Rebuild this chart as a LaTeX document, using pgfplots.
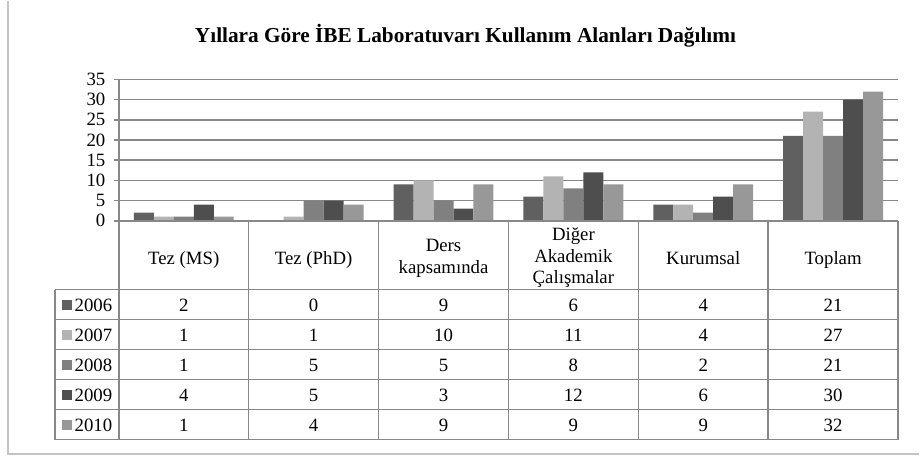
\documentclass[border=0pt]{standalone}
\usepackage{pgfplots}
\usepackage{pgfplotstable}
\pgfplotsset{compat=1.18}
\usepackage{fontspec}
\setmainfont{Liberation Serif}

\definecolor{cA}{HTML}{606060}
\definecolor{cB}{HTML}{B3B3B3}
\definecolor{cC}{HTML}{808080}
\definecolor{cD}{HTML}{4E4E4E}
\definecolor{cE}{HTML}{989898}
\definecolor{gridc}{HTML}{888888}
\definecolor{framec}{HTML}{C4C4C4}

\pgfplotstableread{
idx y2006 y2007 y2008 y2009 y2010
0 2 1 1 4 1
1 0 1 5 5 4
2 9 10 5 3 9
3 6 11 8 12 9
4 4 4 2 6 9
5 21 27 21 30 32
}\data

\newcommand{\tfont}{\fontsize{18.8}{22}\selectfont}

\begin{document}
\begin{tikzpicture}
\begin{axis}[name=ax, anchor=south west, scale only axis,
  width=780pt, height=141.5pt,
  xmin=-0.5, xmax=5.5, ymin=0, ymax=35,
  ytick={0,5,...,35}, xtick=\empty,
  ymajorgrids, grid style={gridc, line width=1.5pt},
  axis line style={draw=none},
  ytick pos=left, tick align=outside, major tick length=5pt,
  tick style={gridc, line width=1.5pt},
  yticklabel style={font=\tfont, xshift=-5pt},
  /pgf/number format/assume math mode=true,
  ybar=0pt, bar width=20pt, clip=false]
\addplot[fill=cA, draw=none] table[x=idx,y=y2006]{\data};
\addplot[fill=cB, draw=none] table[x=idx,y=y2007]{\data};
\addplot[fill=cC, draw=none] table[x=idx,y=y2008]{\data};
\addplot[fill=cD, draw=none] table[x=idx,y=y2009]{\data};
\addplot[fill=cE, draw=none] table[x=idx,y=y2010]{\data};
\end{axis}
\begin{scope}[shift={(ax.south west)}, x=1pt, y=1pt]
\path (-119,220) rectangle (801,-237);
\draw[framec, line width=2pt] (-111,220) -- (-111,-233) -- (801,-233);
\node[font=\fontsize{21.3}{24}\selectfont\bfseries, anchor=base, inner sep=0pt] at (347,178) {Yıllara Göre İBE Laboratuvarı Kullanım Alanları Dağılımı};
% data table grid
\begin{scope}[gridc, line width=1.5pt]
\draw (0,141.5) -- (0,-219);
\draw (0,0) -- (780,0);
\foreach \k in {1,...,6} \draw (130*\k,0) -- (130*\k,-219);
\draw (-64,-69) -- (-64,-219);
\foreach \yy in {-69,-99,-129,-159,-189,-219} \draw (-64,\yy) -- (780,\yy);
\end{scope}
% header
\foreach \txt/\k in {Tez (MS)/0,Tez (PhD)/1,Kurumsal/4,Toplam/5}
  \node[font=\tfont, anchor=base, inner sep=0pt] at (65+130*\k,-44) {\txt};
\node[font=\fontsize{18.8}{21.5}\selectfont, align=center, inner sep=0pt] at (65+130*2,-37.5) {Ders\\kapsamında};
\node[font=\fontsize{18.8}{21.5}\selectfont, align=center, inner sep=0pt] at (65+130*3,-37) {Diğer\\Akademik\\Çalışmalar};
% rows
\foreach \yr/\col [count=\r from 0] in {2006/cA,2007/cB,2008/cC,2009/cD,2010/cE} {
  \fill[\col] (-57,-89.5-30*\r) rectangle (-47,-79.5-30*\r);
  \node[font=\tfont, anchor=west, inner sep=0pt] at (-44.5,-84.5-30*\r) {\yr};
  \foreach \k in {0,...,5} {
    \pgfplotstablegetelem{\k}{y\yr}\of\data
    \node[font=\tfont, inner sep=0pt] at (65+130*\k,-84.5-30*\r) {\pgfplotsretval};
  }
}
\end{scope}
\end{tikzpicture}
\end{document}
